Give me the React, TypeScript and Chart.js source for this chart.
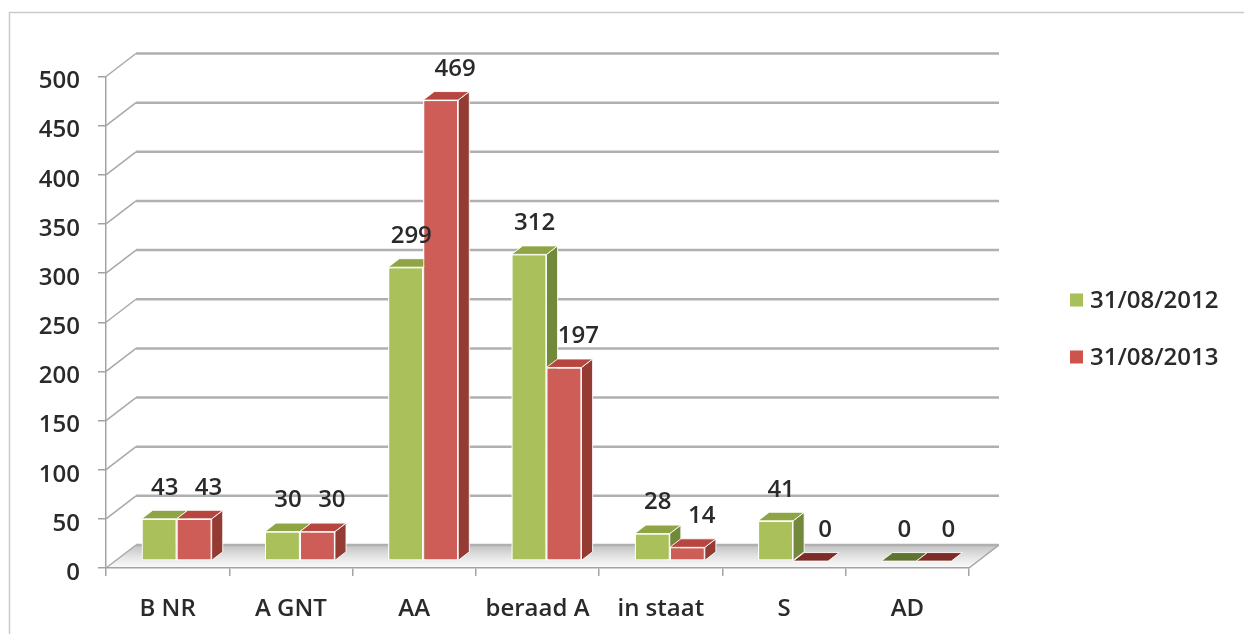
import React, { useEffect, useRef } from "react";
import { Chart, registerables } from "chart.js";

Chart.register(...registerables);

// ---- data ----
const categories = ["B NR", "A GNT", "AA", "beraad A", "in staat", "S", "AD"];
const series2012 = [43, 30, 299, 312, 28, 41, 0];
const series2013 = [43, 30, 469, 197, 14, 0, 0];
const seriesLabels = ["31/08/2012", "31/08/2013"];
const yMin = 0;
const yMax = 500;
const yStep = 50;

// ---- style ----
const FONT = "'Open Sans', 'Noto Sans', sans-serif";
const WEIGHT = "600";
const TEXT = "#2a2a2a";
const AXIS = "#a3a3a3";
const WALL_DX = 30;
const WALL_DY = -23;
const BAR_PLANE = 0.3;
const BAR_DEPTH = 0.37;

const palette = [
  { front: "#a9c05b", top: "#8fa545", side: "#72883a", zero: "#5f7430", legend: "#a6c05a" },
  { front: "#cd5d56", top: "#b6463f", side: "#943b34", zero: "#7d2c27", legend: "#cf524b" },
];

const threeD = {
  id: "threeD",
  beforeDraw(chart: any) {
    const { ctx, chartArea: a, scales } = chart;
    const y = scales.y;
    ctx.save();
    // outer frame
    ctx.strokeStyle = "#cacaca";
    ctx.lineWidth = 1.5;
    ctx.beginPath();
    ctx.moveTo(9.5, chart.height + 5);
    ctx.lineTo(9.5, 12.5);
    ctx.lineTo(chart.width + 5, 12.5);
    ctx.stroke();

    // floor
    const y0 = y.getPixelForValue(0);
    const grad = ctx.createLinearGradient(0, y0 + WALL_DY, 0, y0);
    grad.addColorStop(0, "#c2c2c2");
    grad.addColorStop(0.55, "#e6e6e6");
    grad.addColorStop(1, "#fbfbfb");
    ctx.beginPath();
    ctx.moveTo(a.left, y0);
    ctx.lineTo(a.right, y0);
    ctx.lineTo(a.right + WALL_DX, y0 + WALL_DY);
    ctx.lineTo(a.left + WALL_DX, y0 + WALL_DY);
    ctx.closePath();
    ctx.fillStyle = grad;
    ctx.fill();

    // right floor edge
    ctx.strokeStyle = AXIS;
    ctx.lineWidth = 1.5;
    ctx.beginPath();
    ctx.moveTo(a.right, y0);
    ctx.lineTo(a.right + WALL_DX, y0 + WALL_DY);
    ctx.stroke();

    // back wall gridlines + side wall diagonals
    for (let v = yMin; v <= yMax; v += yStep) {
      const yy = y.getPixelForValue(v);
      ctx.strokeStyle = "#a8a8a8";
      ctx.lineWidth = 1.5;
      ctx.beginPath();
      ctx.moveTo(a.left, yy);
      ctx.lineTo(a.left + WALL_DX, yy + WALL_DY);
      ctx.stroke();
      ctx.lineWidth = 2.5;
      ctx.strokeStyle = "#b0b0b0";
      ctx.beginPath();
      ctx.moveTo(a.left + WALL_DX, yy + WALL_DY);
      ctx.lineTo(a.right + WALL_DX, yy + WALL_DY);
      ctx.stroke();
    }
    ctx.restore();
  },
  beforeDatasetsDraw(chart: any) {
    const { ctx } = chart;
    ctx.save();
    ctx.translate(WALL_DX * BAR_PLANE, WALL_DY * BAR_PLANE);
  },
  afterDatasetsDraw(chart: any) {
    const { ctx } = chart;
    const dx = WALL_DX * BAR_DEPTH;
    const dy = WALL_DY * BAR_DEPTH;
    // redraw every bar in series order with its top and side faces
    chart.data.datasets.forEach((ds: any, di: number) => {
      const meta = chart.getDatasetMeta(di);
      const pal = palette[di];
      meta.data.forEach((el: any, i: number) => {
        const { x, y, base, width } = el.getProps(["x", "y", "base", "width"], true);
        const L = x - width / 2;
        const R = x + width / 2;
        const top = Math.min(y, base);
        const bottom = Math.max(y, base);
        const value = ds.data[i];
        el.draw(ctx, chart.chartArea);
        ctx.save();
        ctx.strokeStyle = "rgba(255,255,255,0.9)";
        ctx.lineWidth = 1;
        ctx.lineJoin = "round";
        if (bottom - top > 0.5) {
          ctx.beginPath();
          ctx.moveTo(R, top);
          ctx.lineTo(R + dx, top + dy);
          ctx.lineTo(R + dx, bottom + dy);
          ctx.lineTo(R, bottom);
          ctx.closePath();
          ctx.fillStyle = pal.side;
          ctx.fill();
          ctx.stroke();
        }
        ctx.beginPath();
        ctx.moveTo(L, top);
        ctx.lineTo(R, top);
        ctx.lineTo(R + dx, top + dy);
        ctx.lineTo(L + dx, top + dy);
        ctx.closePath();
        ctx.fillStyle = value === 0 ? pal.zero : pal.top;
        ctx.fill();
        ctx.stroke();
        ctx.restore();
      });
    });
    // value labels
    ctx.save();
    ctx.font = `${WEIGHT} 24px ${FONT}`;
    ctx.fillStyle = TEXT;
    ctx.textAlign = "center";
    ctx.textBaseline = "middle";
    chart.data.datasets.forEach((ds: any, di: number) => {
      const meta = chart.getDatasetMeta(di);
      meta.data.forEach((el: any, i: number) => {
        const { x, y } = el.getProps(["x", "y"], true);
        const lx = x + dx * (di === 0 ? 0.5 : 1.3);
        ctx.fillText(String(ds.data[i]), lx, y - 31);
      });
    });
    ctx.restore();
    ctx.restore(); // undo translate
  },
  afterDraw(chart: any) {
    const { ctx } = chart;
    ctx.save();
    ctx.font = `${WEIGHT} 24px ${FONT}`;
    ctx.textBaseline = "middle";
    ctx.textAlign = "left";
    chart.data.datasets.forEach((ds: any, i: number) => {
      const cy = 300 + i * 57;
      ctx.fillStyle = palette[i].legend;
      ctx.fillRect(1070, cy - 6.5, 13, 13);
      ctx.fillStyle = TEXT;
      ctx.fillText(ds.label, 1090, cy + 1);
    });
    ctx.restore();
  },
};

export default function App() {
  const ref = useRef<HTMLCanvasElement | null>(null);
  useEffect(() => {
    if (!ref.current) return;
    const chart = new Chart(ref.current, {
      type: "bar",
      data: {
        labels: categories,
        datasets: [
          {
            label: seriesLabels[0],
            data: series2012,
            backgroundColor: palette[0].front,
            borderColor: "#ffffff",
            borderWidth: 1.2,
            borderSkipped: false,
            clip: false as any,
          },
          {
            label: seriesLabels[1],
            data: series2013,
            backgroundColor: palette[1].front,
            borderColor: "#ffffff",
            borderWidth: 1.2,
            borderSkipped: false,
            clip: false as any,
          },
        ],
      },
      options: {
        animation: false,
        responsive: false,
        devicePixelRatio: 1,
        layout: { padding: { left: 0, right: 275, top: 76.5, bottom: 0 } },
        datasets: { bar: { categoryPercentage: 0.568, barPercentage: 1 } },
        plugins: { legend: { display: false }, tooltip: { enabled: false } },
        scales: {
          x: {
            offset: true,
            grid: { offset: true, drawOnChartArea: false, drawTicks: true, tickLength: 8, color: AXIS, lineWidth: 1.5 },
            border: { display: true, color: AXIS, width: 1.5 },
            ticks: { font: { size: 24, family: FONT, weight: WEIGHT }, color: TEXT, padding: 19, maxRotation: 0, autoSkip: false },
            afterFit: (s: any) => {
              s.height = 66;
            },
          },
          y: {
            min: yMin,
            max: yMax,
            grid: { drawOnChartArea: false, drawTicks: true, tickLength: 8, color: AXIS, lineWidth: 1.5 },
            border: { display: true, color: AXIS, width: 1.5 },
            ticks: { stepSize: yStep, font: { size: 24, family: FONT, weight: WEIGHT }, color: TEXT, padding: 18, labelOffset: 5 },
            afterFit: (s: any) => {
              s.width = 106;
            },
          },
        },
      } as any,
      plugins: [threeD],
    });
    return () => chart.destroy();
  }, []);
  return (
    <div style={{ position: "absolute", left: 0, top: 0, width: 1244, height: 634, background: "#fff" }}>
      <canvas ref={ref} width={1244} height={634} style={{ display: "block" }} />
    </div>
  );
}
